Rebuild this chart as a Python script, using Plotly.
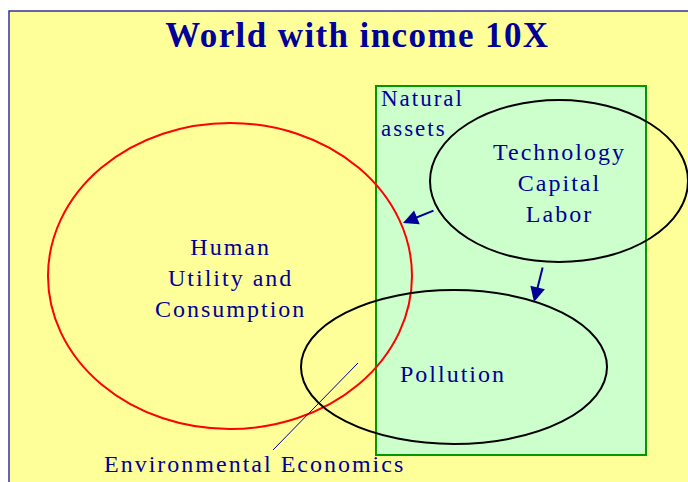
import plotly.graph_objects as go

# canvas in screen pixels (y grows downward)
W, H = 688, 482

# frame / boxes: x0, y0, x1, y1
world_box = [9, 11, 720, 500]
natural_box = [376, 86, 646, 455]

# ellipses: cx, cy, rx, ry, colour
ellipse_cx = [230, 559, 454]
ellipse_cy = [276, 181, 367]
ellipse_rx = [182, 129, 153]
ellipse_ry = [153, 81, 77]
ellipse_colors = ["#ff0000", "#000000", "#000000"]

# labels
label_texts = [
    "Human<br>Utility and<br>Consumption",
    "Technology<br>Capital<br>Labor",
    "Pollution",
    "Environmental Economics",
]
label_x = [230, 559, 453, 254]
label_y = [278, 183, 374, 464]

# arrows: tail -> head
arrow_tail_x = [435, 543]
arrow_tail_y = [210, 266]
arrow_head_x = [403, 534]
arrow_head_y = [223, 302]

# pointer line for "Environmental Economics"
pointer_x = [273, 358]
pointer_y = [450, 363]

BLUE = "#000099"
SERIF = "Liberation Serif, Times New Roman, serif"

fig = go.Figure()

shapes = [
    dict(type="rect", x0=world_box[0], y0=world_box[1], x1=world_box[2], y1=world_box[3],
         fillcolor="#ffff99", line=dict(color="#333399", width=1.5), layer="below"),
    dict(type="rect", x0=natural_box[0], y0=natural_box[1], x1=natural_box[2], y1=natural_box[3],
         fillcolor="#ccffcc", line=dict(color="#009900", width=2), layer="below"),
]
for cx, cy, rx, ry, col in zip(ellipse_cx, ellipse_cy, ellipse_rx, ellipse_ry, ellipse_colors):
    shapes.append(dict(type="circle", x0=cx - rx, x1=cx + rx, y0=cy - ry, y1=cy + ry,
                       line=dict(color=col, width=2)))
shapes.append(dict(type="line", x0=pointer_x[0], y0=pointer_y[0], x1=pointer_x[1], y1=pointer_y[1],
                   line=dict(color=BLUE, width=1)))

annotations = [
    dict(x=357, y=35, text="<b>World with income 10X</b>", showarrow=False,
         font=dict(family=SERIF, size=35, color=BLUE)),
    dict(x=379, y=113, text="Natural<br>assets", showarrow=False, xanchor="left", align="left",
         font=dict(family=SERIF, size=23, color=BLUE)),
]
for t, x, y in zip(label_texts, label_x, label_y):
    annotations.append(dict(x=x, y=y, text=t, showarrow=False, align="center",
                            font=dict(family=SERIF, size=24, color=BLUE)))
for tx, ty, hx, hy in zip(arrow_tail_x, arrow_tail_y, arrow_head_x, arrow_head_y):
    annotations.append(dict(x=hx, y=hy, ax=tx, ay=ty, axref="x", ayref="y", xref="x", yref="y",
                            text="", showarrow=True, arrowhead=2, arrowsize=1.5, arrowwidth=2,
                            arrowcolor=BLUE))

fig.update_layout(
    width=W, height=H,
    margin=dict(l=0, r=0, t=0, b=0),
    paper_bgcolor="white", plot_bgcolor="white",
    xaxis=dict(range=[0, W], visible=False, fixedrange=True),
    yaxis=dict(range=[H, 0], visible=False, fixedrange=True),
    shapes=shapes, annotations=annotations,
    showlegend=False,
)

# no page margin, and the original slide text is letter-spaced
page_js = """
document.body.style.margin = '0';
document.querySelectorAll('.annotation-text').forEach(function (t) {
  var fs = parseFloat(t.style.fontSize);
  t.style.letterSpacing = fs > 30 ? '1.4px' : '2px';
});
"""

fig.write_html("out.html", post_script=page_js, config={"displayModeBar": False})
